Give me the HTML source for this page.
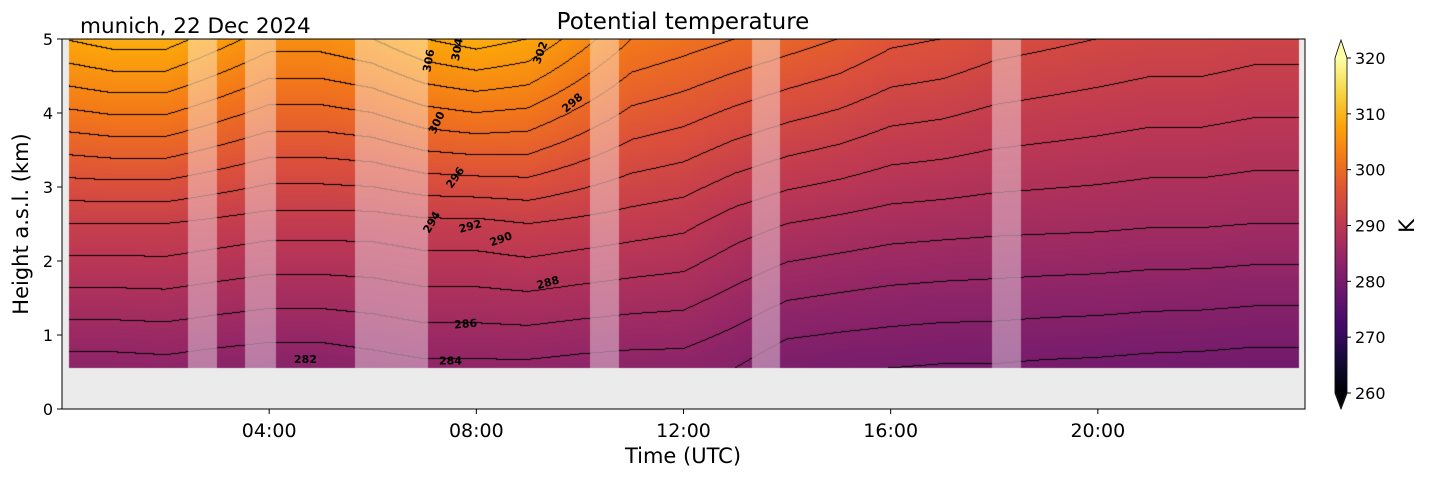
<!DOCTYPE html>
<html><head><meta charset="utf-8">
<style>
html,body{margin:0;padding:0;background:#fff;}
#wrap{position:relative;width:1429px;height:478px;font-family:"DejaVu Sans","Liberation Sans",sans-serif;}
canvas{position:absolute;left:0;top:0;}
svg{position:absolute;left:0;top:0;font-family:"DejaVu Sans","Liberation Sans",sans-serif;}
</style></head>
<body>
<div id="wrap">
<canvas id="cv" width="1429" height="478"></canvas>
<svg id="sv" width="1429" height="478"></svg>
</div>
<script>
// ---- data ----
const hours = [0,1,2,3,4,5,6,7,8,9,10,11,12,13,14,15,16,17,18,19,20,21,22,23,24];
const thetaBottom = [283.0,283.0,283.2,282.8,282.5,282.5,283.0,283.5,283.5,283.5,283.2,283.0,283.0,282.0,280.5,280.2,280.0,279.8,279.8,279.6,279.5,279.3,279.2,279.0,279.0];
const thetaMid = [292,292,292,291.5,291,291,291,291.5,291.5,292,291.5,291,290.5,289,288,287.5,287,286.8,286.6,286.5,286.4,286.2,286.2,286,286];
const thetaTop = [308,309,309,307,305,305,306,308,309,308,305,302,301,300,299,298,296.5,296,295,294.5,294,293.5,293.5,293,293];
const levelsZ = [0.55, 2.5, 5.0];
const gapStart = [2.43, 3.54, 5.66, 10.2, 13.33, 17.95];
const gapEnd = [3.0, 4.14, 7.07, 10.76, 13.86, 18.51];
const dataStart = 0.135, dataEnd = 23.88;
const xTickHours = [4, 8, 12, 16, 20];
const xTickLabels = ["04:00","08:00","12:00","16:00","20:00"];
const yTicks = [0,1,2,3,4,5];
const cbTicks = [260,270,280,290,300,310,320];
const contourLabels = [
 {t:4.7,z:0.62,v:"282",r:0},{t:7.5,z:0.6,v:"284",r:0},{t:7.8,z:1.1,v:"286",r:-5},
 {t:9.4,z:1.66,v:"288",r:-15},{t:8.5,z:2.25,v:"290",r:-20},{t:7.9,z:2.42,v:"292",r:-15},
 {t:7.2,z:2.5,v:"294",r:-60},{t:7.65,z:3.1,v:"296",r:-55},{t:9.9,z:4.1,v:"298",r:-40},
 {t:7.3,z:3.85,v:"300",r:-65},{t:7.15,z:4.7,v:"306",r:-80},{t:7.7,z:4.85,v:"304",r:-80},{t:9.3,z:4.8,v:"302",r:-70}
];
// ---- axes ----
const X0=62, X1=1305, Y0=409, Y1=39;
const xs = h => X0 + (h/24)*(X1-X0);
const ys = z => Y0 - (z/5)*(Y0-Y1);
const vmin=260, vmax=320;
const inferno=[[0,0,4],[22,11,57],[66,10,104],[106,23,110],[147,38,103],[188,55,84],[221,81,58],[243,120,25],[252,165,10],[246,215,70],[252,255,164]];
function cmap(v){let t=(v-vmin)/(vmax-vmin);t=Math.max(0,Math.min(1,t))*10;const i=Math.min(9,Math.floor(t)),f=t-i;const a=inferno[i],b=inferno[i+1];return [a[0]+(b[0]-a[0])*f,a[1]+(b[1]-a[1])*f,a[2]+(b[2]-a[2])*f];}
function interpArr(arr,h){const i=Math.max(0,Math.min(hours.length-2,Math.floor(h)));const f=h-hours[i];return arr[i]+(arr[i+1]-arr[i])*f;}
function theta(h,z){const b=interpArr(thetaBottom,h),m=interpArr(thetaMid,h),t=interpArr(thetaTop,h);
 if(z<=levelsZ[1])return b+(m-b)*(z-levelsZ[0])/(levelsZ[1]-levelsZ[0]);return m+(t-m)*(z-levelsZ[1])/(levelsZ[2]-levelsZ[1]);}
const cv=document.getElementById('cv'),ctx=cv.getContext('2d');
ctx.fillStyle='#ebebeb';ctx.fillRect(X0,Y1,X1-X0,Y0-Y1);
const px0=Math.round(xs(dataStart)),px1=Math.round(xs(dataEnd)),py0=Math.round(ys(5)),py1=Math.round(ys(0.55));
const W=px1-px0,H=py1-py0;const img=ctx.createImageData(W,H);
const inv=(x)=> (x-X0)/(X1-X0)*24, invz=(y)=>(Y0-y)/(Y0-Y1)*5;
for(let j=0;j<H;j++){for(let i=0;i<W;i++){const h=inv(px0+i+0.5),z=invz(py0+j+0.5);const v=theta(h,z),vb=theta(h,invz(py0+j+1.5)),vr=theta(inv(px0+i+1.5),z);
 let c=cmap(v);const k=(j*W+i)*4;let gap=false;for(let g=0;g<gapStart.length;g++)if(h>=gapStart[g]&&h<gapEnd[g])gap=true;
 const line=Math.floor(v/2)!==Math.floor(vb/2)||Math.floor(v/2)!==Math.floor(vr/2);
 if(line){ if(gap){c=[c[0]*0.6,c[1]*0.6,c[2]*0.6];} else c=[0,0,0]; }
 if(gap){c=[c[0]*0.6+255*0.4,c[1]*0.6+255*0.4,c[2]*0.6+255*0.4];}
 img.data[k]=c[0];img.data[k+1]=c[1];img.data[k+2]=c[2];img.data[k+3]=255;}}
ctx.putImageData(img,px0,py0);
// colorbar
const CBX=1335,CBW=12,CBT=58,CBB=393;
for(let y=CBT;y<CBB;y++){const v=vmax-(y-CBT)/(CBB-CBT)*(vmax-vmin);const c=cmap(v);ctx.fillStyle=`rgb(${c[0]|0},${c[1]|0},${c[2]|0})`;ctx.fillRect(CBX,y,CBW,1);}
ctx.fillStyle='rgb(252,255,164)';ctx.beginPath();ctx.moveTo(CBX,CBT);ctx.lineTo(CBX+CBW/2,40);ctx.lineTo(CBX+CBW,CBT);ctx.fill();
ctx.fillStyle='#000004';ctx.beginPath();ctx.moveTo(CBX,CBB);ctx.lineTo(CBX+CBW/2,409);ctx.lineTo(CBX+CBW,CBB);ctx.fill();
// svg
const sv=document.getElementById('sv'),NS='http://www.w3.org/2000/svg';
function el(tag,attrs,txt){const e=document.createElementNS(NS,tag);for(const k in attrs)e.setAttribute(k,attrs[k]);if(txt!==undefined)e.textContent=txt;sv.appendChild(e);return e;}
let e;
e=el('rect',{x:X0,y:Y1,width:X1-X0,height:Y0-Y1,fill:'none',stroke:'#000','stroke-width':1});


xTickHours.forEach((h,i)=>{const x=xs(h);
 e=el('line',{x1:x,x2:x,y1:Y0,y2:Y0+5,stroke:'#000'});
 
 
 e=el('text',{x:x,y:Y0+28,'text-anchor':'middle','font-size':'19px'},xTickLabels[i]);
 
 });
yTicks.forEach(z=>{const y=ys(z);
 e=el('line',{x1:X0-5,x2:X0,y1:y,y2:y,stroke:'#000'});
 
 
 e=el('text',{x:X0-9,y:y+6,'text-anchor':'end','font-size':'16px'},String(z));
 
 });
cbTicks.forEach(v=>{const y=CBT+(vmax-v)/(vmax-vmin)*(CBB-CBT);
 e=el('line',{x1:CBX+CBW,x2:CBX+CBW+4,y1:y,y2:y,stroke:'#000'});
 
 
 e=el('text',{x:CBX+CBW+8,y:y+6,'font-size':'16px'},String(v));
 
 });
e=el('path',{d:`M${CBX} ${CBT} L${CBX+CBW/2} 40 L${CBX+CBW} ${CBT} L${CBX+CBW} ${CBB} L${CBX+CBW/2} 409 L${CBX} ${CBB} Z`,fill:'none',stroke:'#000','stroke-width':0.8});


contourLabels.forEach(l=>{const x=xs(l.t),y=ys(l.z);
 e=el('text',{x:x,y:y,'font-size':'11px','font-weight':'bold','text-anchor':'middle',transform:`rotate(${l.r} ${x} ${y})`},l.v);
 
 });
e=el('text',{x:683,y:29,'text-anchor':'middle','font-size':'23px'},'Potential temperature');


e=el('text',{x:80,y:33,'font-size':'21.5px'},'munich, 22 Dec 2024');


e=el('text',{x:683,y:463,'text-anchor':'middle','font-size':'21px'},'Time (UTC)');


e=el('text',{x:28,y:224,'text-anchor':'middle','font-size':'21px',transform:'rotate(-90 28 224)'},'Height a.s.l. (km)');


e=el('text',{x:1414,y:226,'text-anchor':'middle','font-size':'21px',transform:'rotate(-90 1414 226)'},'K');


</script>
</body></html>
